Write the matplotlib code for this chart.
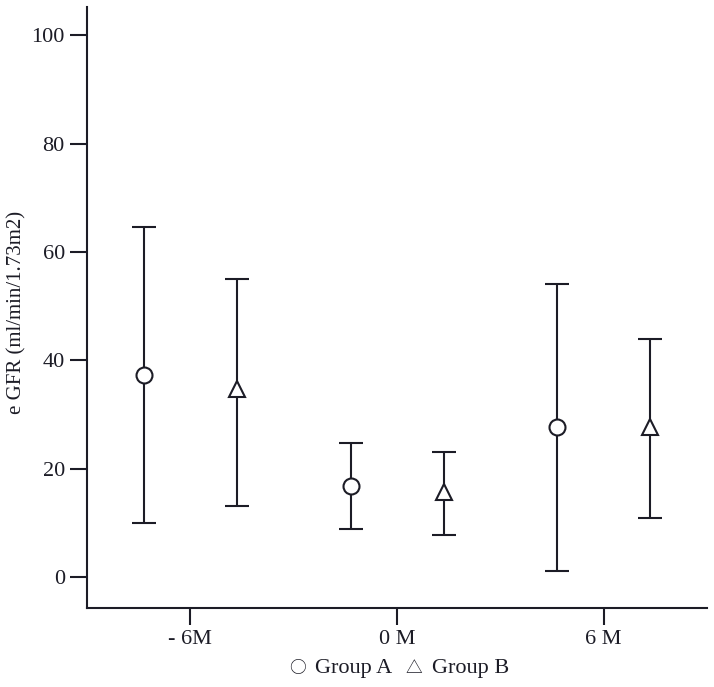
import numpy as np
import matplotlib
matplotlib.use('Agg')
import matplotlib.pyplot as plt

# timepoints and per-group mean / 95% CI bounds
timepoints = ['- 6M', '0 M', '6 M']
group_a_mean = [37.3, 16.8, 27.7]
group_a_low = [10.0, 8.9, 1.1]
group_a_high = [64.6, 24.7, 54.1]
group_b_mean = [34.7, 15.7, 27.7]
group_b_low = [13.1, 7.7, 10.9]
group_b_high = [55.0, 23.1, 43.9]
y_ticks = [0, 20, 40, 60, 80, 100]

plt.rcParams['font.family'] = ['Liberation Serif', 'DejaVu Sans']
ink = '#1c1c26'

fig = plt.figure(figsize=(7.14, 6.87), dpi=100)
ax = fig.add_axes([87 / 714, 1 - 608 / 687, 620 / 714, 601 / 687])

x = np.arange(len(timepoints))
offset = 0.225

def draw_group(xpos, mean, low, high, marker, ms):
    mean = np.array(mean)
    yerr = [mean - np.array(low), np.array(high) - mean]
    ax.errorbar(xpos, mean, yerr=yerr, fmt=marker, ms=ms, mfc='white',
                mec=ink, mew=1.5, ecolor=ink, elinewidth=1.5,
                capsize=8.3, capthick=1.5, zorder=3)

draw_group(x - offset, group_a_mean, group_a_low, group_a_high, 'o', 11.5)
draw_group(x + offset, group_b_mean, group_b_low, group_b_high, '^', 11)

ax.set_xlim(-0.5, 2.5)
ax.set_ylim(-5.7, 105.2)
ax.set_xticks(x)
ax.set_xticklabels(timepoints)
ax.set_yticks(y_ticks)
ax.tick_params(axis='both', length=12, width=1.5, color=ink, labelsize=16,
               labelcolor=ink, pad=4)
for side in ['top', 'right']:
    ax.spines[side].set_visible(False)
for side in ['left', 'bottom']:
    ax.spines[side].set_linewidth(1.5)
    ax.spines[side].set_color(ink)

ax.set_ylabel('e GFR (ml/min/1.73m2)', fontsize=15, color=ink)
ax.yaxis.set_label_coords(-0.097, 0.4925)

# legend written as text under the axis
ly = 1 - 669 / 687
sym_font = ['Noto Sans CJK SC', 'DejaVu Sans']
fig.text(297.5 / 714, ly, '\u25cb', ha='center', va='center', fontsize=12,
         color=ink, family=sym_font)
fig.text(315 / 714, ly, 'Group A', ha='left', va='center', fontsize=16, color=ink)
fig.text(414 / 714, ly, '\u25b3', ha='center', va='center', fontsize=12,
         color=ink, family=sym_font)
fig.text(432 / 714, ly, 'Group B', ha='left', va='center', fontsize=16, color=ink)

plt.savefig('out.png', dpi=100)
